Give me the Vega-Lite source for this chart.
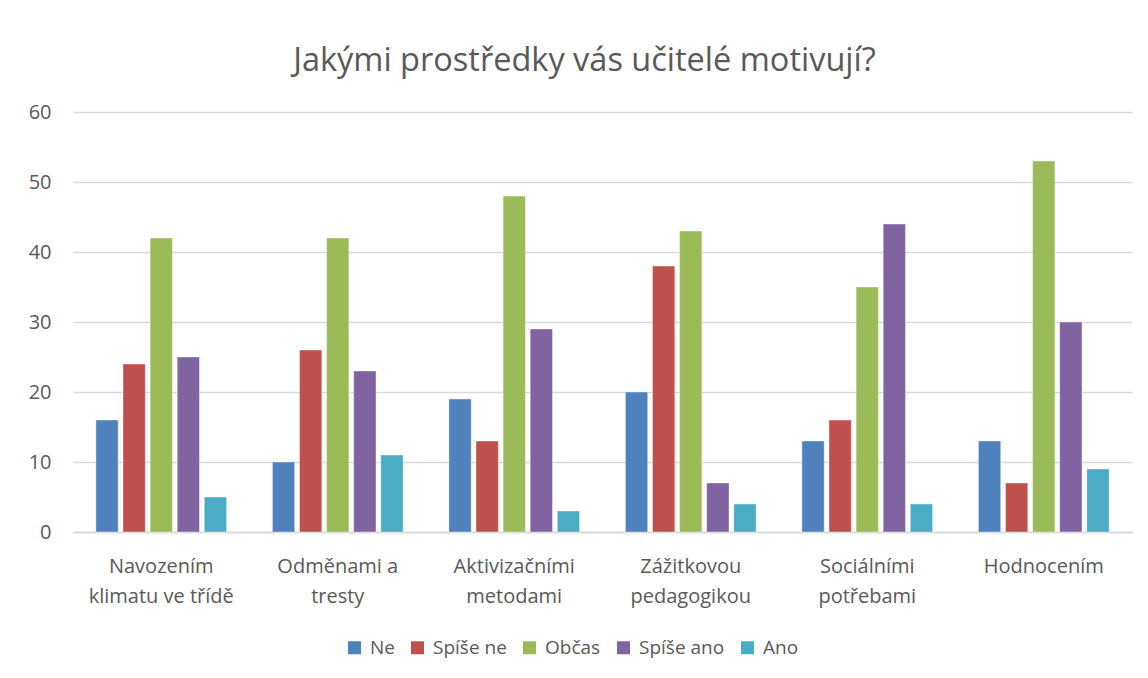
{
  "$schema": "https://vega.github.io/schema/vega-lite/v6.json",
  "autosize": {"type": "none"},
  "width": 1059,
  "height": 420,
  "padding": {"left": 73, "top": 112, "right": 16, "bottom": 146},
  "background": "white",
  "title": {
    "text": "Jakými prostředky vás učitelé motivují?",
    "font": "Open Sans",
    "fontSize": 32.5,
    "fontWeight": "normal",
    "color": "#595959",
    "anchor": "middle",
    "offset": 25,
    "dx": -18
  },
  "data": {
    "values": [
      {"oblast": "Navozením klimatu ve třídě", "odpoved": "Ne", "pocet": 16},
      {"oblast": "Navozením klimatu ve třídě", "odpoved": "Spíše ne", "pocet": 24},
      {"oblast": "Navozením klimatu ve třídě", "odpoved": "Občas", "pocet": 42},
      {"oblast": "Navozením klimatu ve třídě", "odpoved": "Spíše ano", "pocet": 25},
      {"oblast": "Navozením klimatu ve třídě", "odpoved": "Ano", "pocet": 5},
      {"oblast": "Odměnami a tresty", "odpoved": "Ne", "pocet": 10},
      {"oblast": "Odměnami a tresty", "odpoved": "Spíše ne", "pocet": 26},
      {"oblast": "Odměnami a tresty", "odpoved": "Občas", "pocet": 42},
      {"oblast": "Odměnami a tresty", "odpoved": "Spíše ano", "pocet": 23},
      {"oblast": "Odměnami a tresty", "odpoved": "Ano", "pocet": 11},
      {"oblast": "Aktivizačními metodami", "odpoved": "Ne", "pocet": 19},
      {"oblast": "Aktivizačními metodami", "odpoved": "Spíše ne", "pocet": 13},
      {"oblast": "Aktivizačními metodami", "odpoved": "Občas", "pocet": 48},
      {"oblast": "Aktivizačními metodami", "odpoved": "Spíše ano", "pocet": 29},
      {"oblast": "Aktivizačními metodami", "odpoved": "Ano", "pocet": 3},
      {"oblast": "Zážitkovou pedagogikou", "odpoved": "Ne", "pocet": 20},
      {"oblast": "Zážitkovou pedagogikou", "odpoved": "Spíše ne", "pocet": 38},
      {"oblast": "Zážitkovou pedagogikou", "odpoved": "Občas", "pocet": 43},
      {"oblast": "Zážitkovou pedagogikou", "odpoved": "Spíše ano", "pocet": 7},
      {"oblast": "Zážitkovou pedagogikou", "odpoved": "Ano", "pocet": 4},
      {"oblast": "Sociálními potřebami", "odpoved": "Ne", "pocet": 13},
      {"oblast": "Sociálními potřebami", "odpoved": "Spíše ne", "pocet": 16},
      {"oblast": "Sociálními potřebami", "odpoved": "Občas", "pocet": 35},
      {"oblast": "Sociálními potřebami", "odpoved": "Spíše ano", "pocet": 44},
      {"oblast": "Sociálními potřebami", "odpoved": "Ano", "pocet": 4},
      {"oblast": "Hodnocením", "odpoved": "Ne", "pocet": 13},
      {"oblast": "Hodnocením", "odpoved": "Spíše ne", "pocet": 7},
      {"oblast": "Hodnocením", "odpoved": "Občas", "pocet": 53},
      {"oblast": "Hodnocením", "odpoved": "Spíše ano", "pocet": 30},
      {"oblast": "Hodnocením", "odpoved": "Ano", "pocet": 9}
    ]
  },
  "mark": {"type": "bar", "stroke": "white", "strokeOpacity": 0.5, "strokeWidth": 0.8},
  "encoding": {
    "x": {
      "field": "oblast",
      "type": "nominal",
      "sort": null,
      "title": null,
      "scale": {"paddingInner": 0, "paddingOuter": 0},
      "axis": {
        "labelAngle": 0,
        "labelFont": "Open Sans",
        "labelFontSize": 20,
        "labelColor": "#595959",
        "labelPadding": 24,
        "labelLineHeight": 30,
        "labelBaseline": "top",
        "ticks": false,
        "domainColor": "#D9D9D9",
        "domainWidth": 1.5,
        "labelExpr": "datum.label == 'Navozením klimatu ve třídě' ? ['Navozením', 'klimatu ve třídě'] : datum.label == 'Odměnami a tresty' ? ['Odměnami a', 'tresty'] : datum.label == 'Aktivizačními metodami' ? ['Aktivizačními', 'metodami'] : datum.label == 'Zážitkovou pedagogikou' ? ['Zážitkovou', 'pedagogikou'] : datum.label == 'Sociálními potřebami' ? ['Sociálními', 'potřebami'] : datum.label"
      }
    },
    "xOffset": {
      "field": "odpoved",
      "type": "nominal",
      "sort": ["Ne", "Spíše ne", "Občas", "Spíše ano", "Ano"],
      "scale": {"paddingInner": 0.177, "paddingOuter": 0.845}
    },
    "y": {
      "field": "pocet",
      "type": "quantitative",
      "title": null,
      "scale": {"domain": [0, 60]},
      "axis": {
        "values": [0, 10, 20, 30, 40, 50, 60],
        "labelFont": "Open Sans",
        "labelFontSize": 20,
        "labelColor": "#595959",
        "labelPadding": 22,
        "ticks": false,
        "domain": false,
        "gridColor": "#D9D9D9",
        "gridWidth": 1.5
      }
    },
    "color": {
      "field": "odpoved",
      "type": "nominal",
      "sort": ["Ne", "Spíše ne", "Občas", "Spíše ano", "Ano"],
      "scale": {
        "domain": ["Ne", "Spíše ne", "Občas", "Spíše ano", "Ano"],
        "range": ["#4F81BD", "#C0504D", "#9BBB59", "#8064A2", "#4BACC6"]
      },
      "legend": {
        "title": null,
        "orient": "none",
        "direction": "horizontal",
        "legendX": 272,
        "legendY": 526,
        "symbolType": "square",
        "symbolSize": 169,
        "symbolStrokeWidth": 0,
        "labelFont": "Open Sans",
        "labelFontSize": 19,
        "labelColor": "#595959",
        "labelOffset": 6,
        "columnPadding": 13
      }
    }
  },
  "config": {"view": {"stroke": null}}
}
